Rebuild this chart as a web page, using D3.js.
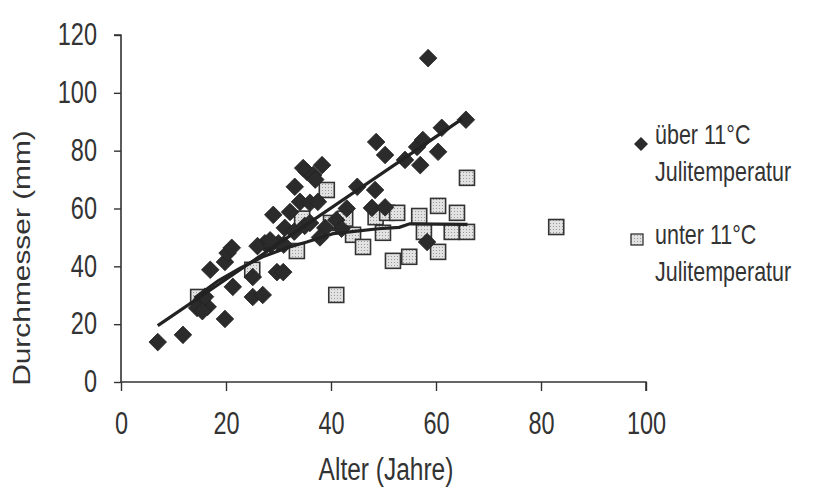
<!DOCTYPE html>
<html>
<head>
<meta charset="utf-8">
<script src="https://cdn.jsdelivr.net/npm/d3@7"></script>
<style>
  body { margin: 0; background: #fff; }
  svg { display: block; font-family: "Liberation Sans", Arial, sans-serif; }
</style>
</head>
<body>
<div id="chart"></div>
<script>
// Durchmesser vs. Alter, two temperature groups + trend lines.
var overLabel = ['über 11°C', 'Julitemperatur'];
var underLabel = ['unter 11°C', 'Julitemperatur'];

// über 11°C — [Alter, Durchmesser]
var over = [
  [7, 13.8], [11.8, 16.3], [19.8, 21.8], [15.4, 28.4], [16.5, 26], [14.5, 25.6],
  [15.5, 24.5], [16, 29.5], [17, 38.8], [19.8, 41.5], [20.3, 44.6], [21.1, 46.4],
  [21.3, 32.9], [25.1, 29.4], [27, 30.1], [25.1, 36.3], [29.7, 38], [27.4, 48],
  [26, 47], [28.5, 47.5], [30, 48], [31, 47.5], [28.4, 49], [30.9, 38], [29, 57.8],
  [32.2, 58.8], [33.1, 67.5], [34.1, 62.3], [36, 62], [37.5, 62.3], [35.4, 72.7],
  [36.6, 71.6], [38.3, 75], [34.7, 74], [31.2, 53.3], [33, 52], [35, 54], [36, 55],
  [38.9, 53.3], [37.9, 50], [41, 56], [42, 53], [45, 67.5], [48.4, 66.4], [47.8, 60.2],
  [50.3, 60.4], [48.6, 83], [50.3, 78.5], [54.1, 76.8], [56.4, 81.3], [57, 75],
  [57.5, 83.7], [58.5, 112], [60.4, 79.6], [61.1, 87.9], [65.7, 90.7], [58.3, 48.4],
  [43, 60], [37, 70]
];

// unter 11°C
var under = [
  [14.7, 29.4], [25, 38.8], [33.5, 45.3], [34.5, 56.5], [39.2, 66.4], [41, 30.1],
  [42.7, 56.5], [44.2, 50.9], [46.1, 46.7], [48.5, 57], [49.9, 51.6], [50.7, 58.5],
  [52.6, 58.5], [51.8, 41.9], [54.9, 43.3], [56.8, 57.4], [57.7, 51.9], [60.4, 60.9],
  [60.4, 45], [64, 58.5], [63, 51.9], [65.9, 51.9], [65.9, 70.6], [82.9, 53.6], [40, 55]
];

// trend lines
var trendOver = [[7, 19.5], [65, 91]];
var trendUnder = [
  [14, 29], [18.5, 35], [22.7, 39.4], [27, 43.3], [31.6, 46.4], [35.4, 48.4],
  [40.4, 51.3], [44, 52], [49, 53], [53, 53.5], [55, 54.7], [66, 54.5]
];

var xTicks = [0, 20, 40, 60, 80, 100];
var yTicks = [0, 20, 40, 60, 80, 100, 120];

var W = 821, H = 492;
var TXT = '#333', SY = 1.3;   // the scanned original has tall, narrow lettering
var svg = d3.select('#chart').append('svg').attr('width', W).attr('height', H);

var x = d3.scaleLinear().domain([0, 100]).range([121, 646]);
var y = d3.scaleLinear().domain([0, 120]).range([382, 35]);

// stipple fill for the squares
var defs = svg.append('defs');
var pat = defs.append('pattern').attr('id', 'dots').attr('patternUnits', 'userSpaceOnUse')
  .attr('width', 3).attr('height', 3);
pat.append('rect').attr('width', 3).attr('height', 3).attr('fill', '#e2e2e2');
pat.append('rect').attr('x', 1).attr('y', 1).attr('width', 1).attr('height', 1).attr('fill', '#9a9a9a');

// axes
var yAxis = svg.append('g').attr('transform', 'translate(121,0)')
  .call(d3.axisLeft(y).tickValues(yTicks).tickSize(7).tickPadding(17));
var xAxis = svg.append('g').attr('transform', 'translate(0,382)')
  .call(d3.axisBottom(x).tickValues(xTicks).tickSize(9).tickPadding(14));
[yAxis, xAxis].forEach(function (g) {
  g.select('.domain').attr('stroke', '#333').attr('stroke-width', 1.6);
  g.selectAll('.tick line').attr('stroke', '#333').attr('stroke-width', 1.4);
  g.selectAll('.tick text').attr('font-size', 23.5).attr('fill', TXT)
    .attr('font-family', '"Liberation Sans", Arial, sans-serif')
    .attr('transform', 'scale(1,' + SY + ')');
});
yAxis.select('.domain').attr('d', 'M-7,' + y(120) + 'H0V' + y(0));
xAxis.select('.domain').attr('d', 'M' + x(0) + ',0H' + x(100) + 'V9');

// axis titles
svg.append('text').attr('transform', 'translate(30,258) rotate(-90) scale(' + SY + ',1)')
  .attr('text-anchor', 'middle').attr('font-size', 23).attr('fill', TXT)
  .text('Durchmesser (mm)');
svg.append('text').attr('transform', 'translate(386,480) scale(1,' + SY + ')')
  .attr('text-anchor', 'middle').attr('font-size', 24.5).attr('fill', TXT)
  .text('Alter (Jahre)');

var sq = 15, dm = 8.8;
function diamondPath(cx, cy, r) {
  return 'M' + cx + ',' + (cy - r) + 'L' + (cx + r) + ',' + cy + 'L' + cx + ',' + (cy + r) + 'L' + (cx - r) + ',' + cy + 'Z';
}

// squares first, then diamonds
svg.append('g').selectAll('rect').data(under).enter().append('rect')
  .attr('x', function (d) { return x(d[0]) - sq / 2; })
  .attr('y', function (d) { return y(d[1]) - sq / 2; })
  .attr('width', sq).attr('height', sq)
  .attr('fill', 'url(#dots)').attr('stroke', '#333').attr('stroke-width', 1.6);

svg.append('g').selectAll('path').data(over).enter().append('path')
  .attr('d', function (d) { return diamondPath(x(d[0]), y(d[1]), dm); })
  .attr('fill', '#2b2b2b').attr('stroke', '#222').attr('stroke-width', 0.8);

var line = d3.line().x(function (d) { return x(d[0]); }).y(function (d) { return y(d[1]); });
svg.append('path').datum(trendOver).attr('d', line)
  .attr('fill', 'none').attr('stroke', '#222').attr('stroke-width', 3.2);
svg.append('path').datum(trendUnder).attr('d', line)
  .attr('fill', 'none').attr('stroke', '#222').attr('stroke-width', 3.2);

// legend
var lg = svg.append('g');
lg.append('path').attr('d', diamondPath(641, 144, 7)).attr('fill', '#2b2b2b');
lg.selectAll('text.o').data(overLabel).enter().append('text')
  .attr('transform', function (d, i) { return 'translate(655,' + (144 + i * 37) + ') scale(1,' + SY + ')'; })
  .attr('font-size', 21.5).attr('fill', TXT).text(function (d) { return d; });
lg.append('rect').attr('x', 631).attr('y', 234).attr('width', 12).attr('height', 11)
  .attr('fill', 'url(#dots)').attr('stroke', '#333').attr('stroke-width', 1.3);
lg.selectAll('text.u').data(underLabel).enter().append('text')
  .attr('transform', function (d, i) { return 'translate(655,' + (244 + i * 37) + ') scale(1,' + SY + ')'; })
  .attr('font-size', 21.5).attr('fill', TXT).text(function (d) { return d; });
</script>
</body>
</html>
